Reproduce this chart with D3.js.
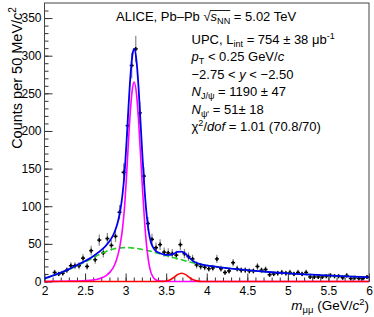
<!DOCTYPE html>
<html>
<head>
<meta charset="utf-8">
<script src="https://cdn.jsdelivr.net/npm/d3@7"></script>
<style>
  body { margin: 0; background: #fff; }
  text { font-family: "Liberation Sans", Arial, Helvetica, sans-serif; fill: #000; }
</style>
</head>
<body>
<div id="graph"></div>
<script>
(function() {

  // dimuon invariant mass, bin centres (GeV/c^2), 50 MeV bins
  const massBins = [
    2.125, 2.175, 2.225, 2.275, 2.325, 2.375, 2.425, 2.475, 2.525, 2.575,
    2.625, 2.675, 2.725, 2.775, 2.825, 2.875, 2.925, 2.975, 3.025, 3.075,
    3.125, 3.175, 3.225, 3.275, 3.325, 3.375, 3.425, 3.475, 3.525, 3.575,
    3.625, 3.675, 3.725, 3.775, 3.825, 3.875, 3.925, 3.975, 4.025, 4.075,
    4.125, 4.175, 4.225, 4.275, 4.325, 4.375, 4.425, 4.475, 4.525, 4.575,
    4.625, 4.675, 4.725, 4.775, 4.825, 4.875, 4.925, 4.975, 5.025, 5.075,
    5.125, 5.175, 5.225, 5.275, 5.325, 5.375, 5.425, 5.475, 5.525, 5.575,
    5.625, 5.675, 5.725, 5.775, 5.825, 5.875, 5.925, 5.975
  ]
  const counts = [
    12, 10, 11, 15, 21, 21, 21, 31, 20, 41,
    29, 55, 38, 57, 48, 60, 92, 145, 207, 287,
    309, 224, 140, 77, 56, 45, 49, 39, 38, 37,
    35, 49, 37, 33, 30, 22, 20, 19, 17, 18,
    30, 17, 12, 14, 25, 17, 15, 15, 14, 14,
    20, 15, 16, 9, 10, 11, 12, 11, 12, 10,
    12, 10, 12, 6, 6, 6, 6, 7, 8, 7,
    7, 5, 8, 4, 5, 4, 4, 6
  ]

  // fit components
  const fitMass = [
    2.0, 2.1, 2.2, 2.3, 2.4, 2.51, 2.61, 2.66, 2.71, 2.76,
    2.81, 2.835, 2.86, 2.885, 2.91, 2.935, 2.96, 2.985, 3.01, 3.035,
    3.06, 3.085, 3.105, 3.135, 3.16, 3.185, 3.21, 3.235, 3.26, 3.285,
    3.31, 3.335, 3.36, 3.385, 3.41, 3.46, 3.5, 3.55, 3.6, 3.64,
    3.69, 3.74, 3.79, 3.84, 3.89, 3.94, 4.0, 4.2, 4.4, 4.6,
    4.8, 5.0, 5.2, 5.4, 5.6, 5.8, 6.0
  ]
  const jpsiFit = [
    0.1, 0.2, 0.3, 0.5, 0.7, 1.2, 2.3, 3.4, 5.1, 7.9,
    12.8, 16.4, 21.3, 28, 37.3, 50.4, 69, 96.7, 138, 186,
    229, 257, 265, 248, 213, 166, 119, 77.7, 46.3, 25.2,
    12.8, 6.5, 3.2, 1.6, 0.8, 0.2, 0, 0, 0, 0,
    0, 0, 0, 0, 0, 0, 0, 0, 0, 0,
    0, 0, 0, 0, 0, 0, 0
  ]
  const psi2sFit = [
    0, 0, 0, 0, 0, 0, 0, 0, 0, 0,
    0, 0, 0, 0, 0, 0, 0, 0, 0, 0,
    0, 0, 0, 0, 0, 0, 0, 0, 0, 0,
    0, 0, 0, 0, 0.05, 0.2, 0.7, 2.4, 5.8, 9.1,
    11, 9.1, 5.0, 1.9, 0.5, 0.1, 0, 0, 0, 0,
    0, 0, 0, 0, 0, 0, 0
  ]
  const bkgFit = [
    4.0, 7.5, 11.5, 16, 21, 26.5, 32, 35, 37.5, 40,
    42, 42.8, 43.5, 44, 44.4, 44.7, 44.9, 45, 45, 45,
    44.8, 44.6, 44.4, 44, 43.6, 43.1, 42.6, 42, 41.4, 40.8,
    40.1, 39.4, 38.7, 38, 37.3, 35.8, 34.6, 33, 31.5, 30.3,
    28.8, 27.4, 26, 24.7, 23.5, 22.4, 21.3, 18.4, 16, 14,
    12.3, 10.9, 9.6, 8.5, 7.4, 6.5, 5.6
  ]

  const xTicks = [2, 2.5, 3, 3.5, 4, 4.5, 5, 5.5, 6]
  const yTicks = [0, 50, 100, 150, 200, 250, 300, 350]

  const W = 374, H = 317
  const margin = {top: 3, right: 5, bottom: 35.5, left: 44.5}
  const width = W - margin.left - margin.right
  const height = H - margin.top - margin.bottom

  const svg = d3.select("#graph")
    .append("svg")
      .attr("width", W)
      .attr("height", H)
  const g = svg.append("g")
      .attr("transform", "translate(" + margin.left + "," + margin.top + ")")

  const x = d3.scaleLinear().domain([2, 6]).range([0, width])
  const y = d3.scaleLinear().domain([0, 370]).range([height, 0])

  // axes, ticks pointing inside the frame
  const xMinor = g.append("g")
    .attr("transform", "translate(0," + height + ")")
    .call(d3.axisBottom(x).tickValues(d3.range(2, 6.001, 0.1)).tickSizeInner(-4).tickSizeOuter(0).tickFormat(""))
  const xAxis = g.append("g")
    .attr("transform", "translate(0," + height + ")")
    .call(d3.axisBottom(x).tickValues(xTicks).tickSizeInner(-8).tickSizeOuter(0).tickPadding(5).tickFormat(d3.format("")))
  const yMinor = g.append("g")
    .call(d3.axisLeft(y).tickValues(d3.range(0, 370, 10)).tickSizeInner(-4).tickSizeOuter(0).tickFormat(""))
  const yAxis = g.append("g")
    .call(d3.axisLeft(y).tickValues(yTicks).tickSizeInner(-8).tickSizeOuter(0).tickPadding(3))

  ;[xMinor, xAxis, yMinor, yAxis].forEach(a => {
    a.select(".domain").remove()
    a.selectAll("line").attr("stroke", "#333")
    a.selectAll("text").attr("font-size", 12).attr("font-family", null).attr("fill", "#000")
  })

  g.append("rect")
    .attr("width", width).attr("height", height)
    .attr("fill", "none").attr("stroke", "#444").attr("stroke-width", 1)

  // data points
  const pts = g.append("g")
  massBins.forEach((m, i) => {
    const v = counts[i], e = Math.sqrt(v)
    pts.append("line")
      .attr("x1", x(m)).attr("x2", x(m))
      .attr("y1", y(v - e)).attr("y2", y(v + e))
      .attr("stroke", "#888").attr("stroke-width", 1.2)
    pts.append("line")
      .attr("x1", x(m) - 2).attr("x2", x(m) + 2)
      .attr("y1", y(v)).attr("y2", y(v))
      .attr("stroke", "#000").attr("stroke-width", 1.5)
    pts.append("line")
      .attr("x1", x(m)).attr("x2", x(m))
      .attr("y1", y(v) - 2).attr("y2", y(v) + 2)
      .attr("stroke", "#000").attr("stroke-width", 1.5)
  })

  // fit curves
  const fit = fitMass.map((m, i) => ({
    m, jpsi: jpsiFit[i], psi: psi2sFit[i], bkg: bkgFit[i],
    total: jpsiFit[i] + psi2sFit[i] + bkgFit[i]
  }))
  const line = key => d3.line()
    .x(d => x(d.m))
    .y(d => y(d[key]))
    .curve(d3.curveMonotoneX)

  g.append("path").datum(fit)
    .attr("fill", "none").attr("stroke", "#22cc22").attr("stroke-width", 1.6)
    .attr("stroke-dasharray", "6,3")
    .attr("d", line("bkg"))
  g.append("path").datum(fit)
    .attr("fill", "none").attr("stroke", "#ff00ff").attr("stroke-width", 1.6)
    .attr("d", line("jpsi"))
  g.append("path").datum(fit)
    .attr("fill", "none").attr("stroke", "#ff0000").attr("stroke-width", 1.6)
    .attr("d", line("psi"))
  g.append("path").datum(fit)
    .attr("fill", "none").attr("stroke", "#0000ee").attr("stroke-width", 1.8)
    .attr("d", line("total"))

  // rich text helper: parts with italic / sub / sup
  function richText(parent, px, py, size, parts, anchor) {
    const t = parent.append("text")
      .attr("x", px).attr("y", py)
      .attr("font-size", size)
      .attr("text-anchor", anchor || "start")
    let shift = 0
    parts.forEach(p => {
      if (typeof p === "string") p = {t: p}
      const s = t.append("tspan").text(p.t)
      let target = 0
      if (p.sub) target = size * 0.25
      if (p.sup) target = -size * 0.4
      s.attr("dy", target - shift)
      shift = target
      if (p.sub || p.sup) s.attr("font-size", size * 0.7)
      if (p.i) s.attr("font-style", "italic")
    })
    return t
  }

  const fs = 13
  const title = richText(svg, 116, 21, fs, [
    "ALICE, Pb\u2013Pb ", "\u221A", {t: "s", i: true}, {t: "NN", sub: true}, " = 5.02 TeV"
  ])
  // overline of the square root
  const tn = title.node()
  const s0 = tn.getStartPositionOfChar(14)
  const s1 = tn.getEndPositionOfChar(16)
  svg.append("line")
    .attr("x1", s0.x - 0.5).attr("x2", s1.x)
    .attr("y1", 21 - 10.5).attr("y2", 21 - 10.5)
    .attr("stroke", "#000").attr("stroke-width", 0.9)

  const lx = 191.5
  richText(svg, lx, 44, fs, [
    "UPC, L", {t: "int", sub: true}, " = 754 \u00B1 38 \u03BCb", {t: "-1", sup: true}
  ])
  richText(svg, lx, 61, fs, [
    {t: "p", i: true}, {t: "T", sub: true}, " < 0.25 GeV/", {t: "c", i: true}
  ])
  richText(svg, lx, 78.5, fs, [
    "\u22122.75 < ", {t: "y", i: true}, " < \u22122.50"
  ])
  richText(svg, lx, 96, fs, [
    {t: "N", i: true}, {t: "J/\u03C8", sub: true}, " = 1190 \u00B1 47"
  ])
  richText(svg, lx, 113.5, fs, [
    {t: "N", i: true}, {t: "\u03C8'", sub: true}, " = 51\u00B1 18"
  ])
  richText(svg, lx, 131, fs, [
    "\u03C7", {t: "2", sup: true}, "/", {t: "dof", i: true}, " = 1.01 (70.8/70)"
  ])

  // axis titles
  richText(svg, W - 5, 310, 13.5, [
    {t: "m", i: true}, {t: "\u03BC\u03BC", sub: true}, " (GeV/", {t: "c", i: true}, {t: "2", sup: true}, ")"
  ], "end")

  const yt = svg.append("g").attr("transform", "translate(21.5,7) rotate(-90)")
  richText(yt, 0, 0, 14.5, [
    "Counts per 50 MeV/", {t: "c", i: true}, {t: "2", sup: true}
  ], "end")

})();
</script>
</body>
</html>
